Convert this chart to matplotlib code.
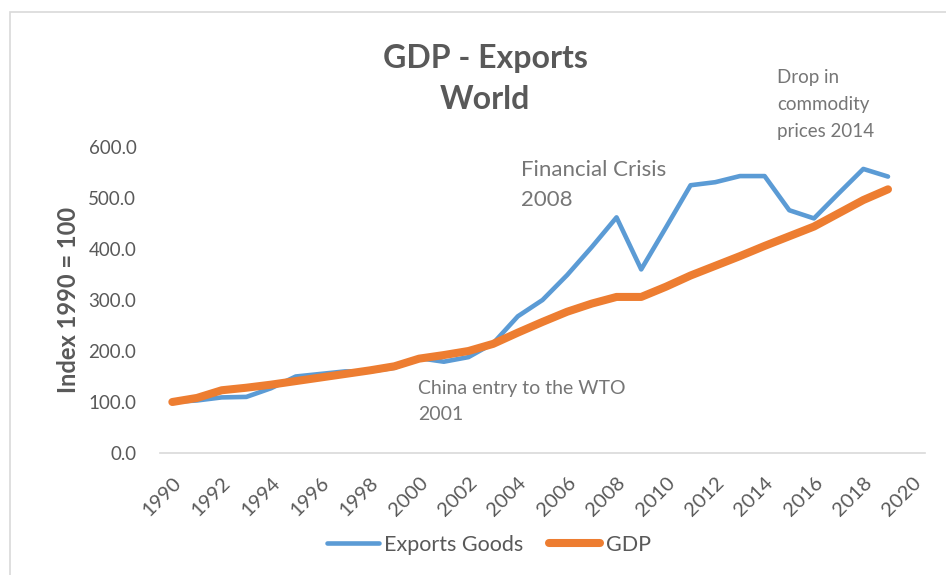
import matplotlib.pyplot as plt
from matplotlib.patches import Rectangle

plt.rcParams['font.family'] = ['Lato', 'DejaVu Sans']

years = list(range(1990, 2021))
tick_years = years[::2]

exports = [100, 103, 109, 110, 127, 150, 155, 160, 160, 167,
           186, 179, 188, 215, 268, 300, 349, 404, 462, 360,
           442, 525, 531, 543, 543, 476, 460, 509, 557, 542]
gdp = [100, 108, 123, 128, 134, 141, 148, 155, 162, 170,
       185, 192, 200, 214, 236, 257, 277, 293, 306, 306,
       326, 348, 367, 386, 406, 425, 444, 470, 496, 517]

GREY = '#595959'
BLUE = '#5B9BD5'
ORANGE = '#ED7D31'

fig = plt.figure(figsize=(9.46, 5.75), dpi=100)
# chart frame (runs off the right and bottom edges like the screenshot)
fig.patches.append(Rectangle((10 / 946, -0.1), 1.2, 1 - 12 / 575 + 0.1,
                             transform=fig.transFigure, fill=False,
                             edgecolor='#d9d9d9', linewidth=1.2))

ax = fig.add_axes([160 / 946, 1 - 453 / 575, 765 / 946, 306 / 575])

x = list(range(len(exports)))
ax.plot(x, exports, color=BLUE, linewidth=3.3, solid_capstyle='round',
        label='Exports Goods')
ax.plot(x, gdp, color=ORANGE, linewidth=5.8, solid_capstyle='round',
        label='GDP')

ax.set_xlim(-0.5, len(years) - 0.5)
ax.set_ylim(0, 600)
ax.set_yticks(range(0, 601, 100))
ax.set_yticklabels([f'{v:.1f}' for v in range(0, 601, 100)])
ax.set_xticks([years.index(y) for y in tick_years])
ax.set_xticklabels([str(y) for y in tick_years], rotation=45, ha='right',
                   va='top', rotation_mode='anchor')

for side in ['top', 'right', 'left']:
    ax.spines[side].set_visible(False)
ax.spines['bottom'].set_color('#d9d9d9')
ax.spines['bottom'].set_linewidth(1.2)
ax.tick_params(axis='both', length=0, colors=GREY, labelsize=13.5)
ax.tick_params(axis='y', pad=17)
ax.tick_params(axis='x', pad=15, labelsize=14.5)

ax.set_ylabel('Index 1990 = 100', fontsize=17, fontweight='bold',
              color=GREY, labelpad=6)

fig.text(485 / 946, 1 - 79 / 575, 'GDP - Exports\nWorld', ha='center',
         va='center', fontsize=23, fontweight='bold', color=GREY,
         linespacing=1.5)

ann = dict(color='#767676', ha='left', va='top')
fig.text(521 / 946, 1 - 160 / 575, 'Financial Crisis\n2008', fontsize=16,
         linespacing=1.6, **ann)
fig.text(777 / 946, 1 - 69 / 575, 'Drop in\ncommodity\nprices 2014',
         fontsize=13.5, linespacing=1.7, **ann)
fig.text(418 / 946, 1 - 380 / 575, 'China entry to the WTO\n2001',
         fontsize=14, linespacing=1.62, **ann)

leg = fig.legend(loc='center', bbox_to_anchor=(489 / 946, 1 - 545 / 575),
                 ncol=2, frameon=False, fontsize=15.5, handlelength=2.4,
                 columnspacing=1.15, handletextpad=0.25)
for t in leg.get_texts():
    t.set_color(GREY)

fig.savefig('out.png', dpi=100)
